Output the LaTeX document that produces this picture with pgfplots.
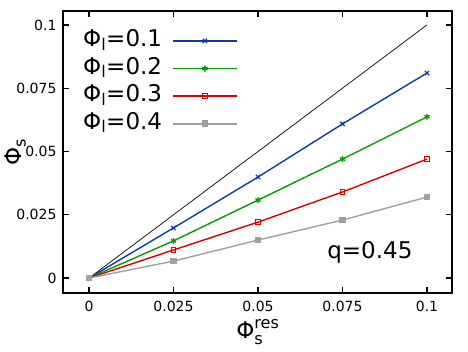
\documentclass[border=0pt]{standalone}
\usepackage{amsmath}
\usepackage{fontspec}
\setmainfont{DejaVu Sans}
\usepackage{pgfplots}
\pgfplotsset{compat=1.18}
\definecolor{lblue}{RGB}{10,60,170}
\definecolor{lgreen}{RGB}{0,160,0}
\definecolor{lred}{RGB}{220,0,0}
\definecolor{lgray}{RGB}{160,160,160}

\begin{document}
\begin{tikzpicture}
\path[use as bounding box] (0,0) rectangle (468pt,351pt);
\begin{axis}[
  at={(63pt,58pt)}, anchor=south west,
  scale only axis, width=389pt, height=282pt,
  xmin=-0.0077, xmax=0.1074, ymin=-0.0059, ymax=0.1055,
  xtick={0,0.025,0.05,0.075,0.1},
  xticklabels={0,0.025,0.05,0.075,0.1},
  ytick={0,0.025,0.05,0.075,0.1},
  yticklabels={0,0.025,0.05,0.075,0.1},
  tick pos=both, tick align=inside,
  major tick length=6pt,
  every tick/.style={black, line width=1.2pt},
  axis line style={line width=1.5pt},
  ticklabel style={font=\fontsize{14}{16}\selectfont},
  xticklabel style={yshift=-5pt},
  yticklabel style={xshift=-3pt},
  xlabel={$\text{Φ}_{\text{s}}^{\text{res}}$},
  ylabel={$\text{Φ}_{\text{s}}$},
  label style={font=\fontsize{23}{26}\selectfont},
  xlabel style={at={(axis description cs:0.501,-0.138)}, anchor=center},
  ylabel style={at={(axis description cs:-0.122,0.5)}, anchor=center, rotate=0},
  legend plot pos=right,
  legend cell align=left,
  legend image code/.code={
    \draw[mark repeat=2, mark phase=2, #1] plot coordinates {(0pt,0pt) (32pt,0pt) (64pt,0pt)};
  },
  legend style={draw=none, fill=none, at={(axis description cs:0.041,0.946)}, anchor=north west,
    font=\fontsize{23}{26}\selectfont, row sep=2.6pt, column sep=9pt,
    nodes={inner sep=1pt, text height=17pt, text depth=6pt}},
]
\addlegendimage{draw=lblue, line width=1.6pt, mark=x, mark size=3pt, mark options={draw=lblue, line width=1.3pt}}
\addlegendentry{$\text{Φ}_{\text{l}}$=0.1}
\addlegendimage{draw=lgreen, line width=1.6pt, mark=asterisk, mark size=3pt, mark options={draw=lgreen, line width=1.3pt}}
\addlegendentry{$\text{Φ}_{\text{l}}$=0.2}
\addlegendimage{draw=lred, line width=1.6pt, mark=square, mark size=2.3pt, mark options={draw=lred, line width=1.1pt}}
\addlegendentry{$\text{Φ}_{\text{l}}$=0.3}
\addlegendimage{draw=lgray, fill=lgray, line width=1.6pt, mark=square*, mark size=2.5pt}
\addlegendentry{$\text{Φ}_{\text{l}}$=0.4}
\addplot[black, line width=0.7pt, forget plot] coordinates {(0,0) (0.1,0.1)};
\addplot[lblue, line width=1.4pt, mark=x, mark size=3pt, mark options={line width=1.3pt}, forget plot] coordinates {(0,0) (0.025,0.0198) (0.05,0.0399) (0.075,0.0609) (0.1,0.0810)};
\addplot[lgreen, line width=1.4pt, mark=asterisk, mark size=3pt, mark options={line width=1.3pt}, forget plot] coordinates {(0,0) (0.025,0.0147) (0.05,0.0308) (0.075,0.0470) (0.1,0.0637)};
\addplot[lred, line width=1.4pt, mark=square, mark size=2.3pt, mark options={line width=1.1pt}, forget plot] coordinates {(0,0) (0.025,0.0111) (0.05,0.0221) (0.075,0.0340) (0.1,0.0470)};
\addplot[lgray, line width=1.4pt, mark=square*, mark size=2.5pt, forget plot] coordinates {(0,0) (0.025,0.0067) (0.05,0.0150) (0.075,0.0229) (0.1,0.0320)};
\node[font=\fontsize{23}{26}\selectfont] at (axis cs:0.0831,0.0103) {q=0.45};
\end{axis}
\end{tikzpicture}
\end{document}
